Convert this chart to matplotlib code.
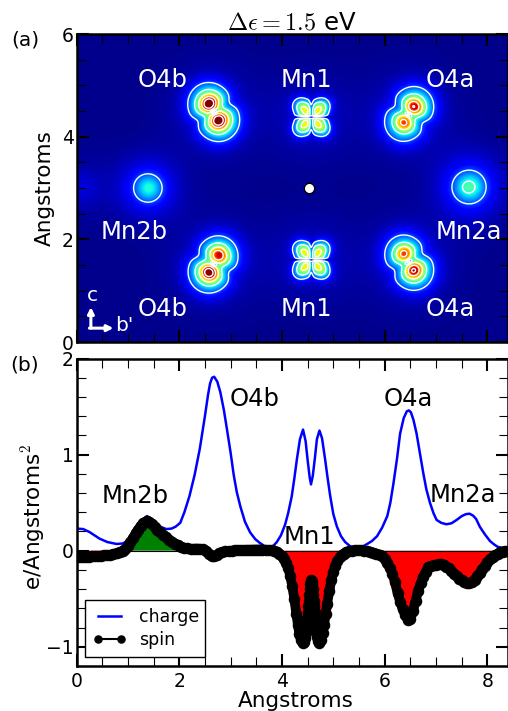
import numpy as np
import matplotlib
matplotlib.use("Agg")
import matplotlib.pyplot as plt
from matplotlib.ticker import MultipleLocator

plt.rcParams['font.family'] = ['DejaVu Sans']
plt.rcParams['mathtext.fontset'] = 'cm'

# ---- panel (b): values ----
charge_x = [0,.13,.25,.35,.45,.6,.78,.9,1.0,1.1,1.2,1.3,1.37,1.45,1.55,1.65,1.75,1.85,1.93,2.02,2.1,2.2,2.3,2.4,2.5,2.56,2.6,2.64,2.68,2.74,2.8,2.87,2.93,3.0,3.06,3.12,3.19,3.28,3.38,3.48,3.57,3.67,3.75,3.83,3.9,3.98,4.06,4.12,4.19,4.24,4.29,4.35,4.41,4.46,4.5,4.54,4.565,4.6,4.64,4.68,4.73,4.78,4.84,4.89,4.94,5.0,5.07,5.15,5.23,5.33,5.45,5.56,5.66,5.75,5.85,5.95,6.05,6.11,6.17,6.24,6.3,6.37,6.43,6.47,6.51,6.56,6.62,6.68,6.75,6.81,6.88,6.95,7.01,7.1,7.2,7.3,7.4,7.5,7.58,7.65,7.72,7.78,7.85,7.95,8.05,8.13,8.2,8.28,8.35,8.4]
charge_y = [.23,.225,.195,.16,.125,.09,.07,.075,.105,.17,.26,.33,.36,.335,.28,.245,.225,.23,.25,.29,.40,.57,.79,1.06,1.40,1.62,1.74,1.80,1.81,1.76,1.65,1.46,1.26,1.02,.79,.61,.46,.3,.19,.12,.08,.045,.035,.05,.09,.16,.27,.39,.565,.75,.95,1.16,1.26,1.14,.94,.76,.69,.78,.96,1.16,1.25,1.17,.95,.75,.565,.38,.25,.15,.09,.045,.03,.04,.07,.1,.15,.24,.36,.5,.7,.96,1.22,1.38,1.45,1.46,1.44,1.36,1.22,1.03,.81,.64,.5,.39,.32,.29,.275,.285,.32,.36,.38,.385,.365,.33,.25,.17,.10,.065,.04,.03,.03,.035]

spin_x = [0,.06,.12,.18,.24,.3,.36,.42,.48,.54,.6,.66,.72,.78,.84,.9,.95,1.0,1.05,1.1,1.15,1.2,1.25,1.3,1.37,1.42,1.47,1.52,1.57,1.62,1.68,1.74,1.8,1.86,1.92,1.98,2.04,2.1,2.16,2.22,2.28,2.34,2.4,2.46,2.52,2.58,2.63,2.68,2.73,2.78,2.84,2.9,2.96,3.02,3.08,3.14,3.2,3.26,3.32,3.38,3.44,3.5,3.56,3.62,3.68,3.74,3.8,3.85,3.9,3.95,4.0,4.04,4.08,4.12,4.16,4.2,4.24,4.28,4.31,4.34,4.37,4.4,4.43,4.445,4.46,4.47,4.48,4.49,4.5,4.51,4.52,4.53,4.54,4.55,4.56,4.57,4.58,4.59,4.6,4.61,4.62,4.63,4.64,4.65,4.66,4.67,4.68,4.69,4.7,4.73,4.76,4.79,4.82,4.85,4.88,4.92,4.96,5.0,5.04,5.08,5.12,5.16,5.2,5.25,5.3,5.36,5.42,5.48,5.54,5.6,5.66,5.72,5.78,5.84,5.9,5.95,6.0,6.05,6.1,6.15,6.2,6.25,6.3,6.35,6.4,6.45,6.5,6.55,6.6,6.65,6.7,6.75,6.8,6.85,6.9,6.95,7.0,7.05,7.1,7.15,7.2,7.25,7.3,7.35,7.4,7.45,7.5,7.55,7.6,7.65,7.7,7.75,7.8,7.85,7.9,7.95,8.0,8.05,8.1,8.15,8.2,8.25,8.3,8.35,8.4]
spin_y = [-.07,-.07,-.068,-.065,-.063,-.06,-.058,-.055,-.052,-.05,-.047,-.043,-.036,-.027,-.015,0,.02,.05,.09,.13,.18,.22,.26,.29,.31,.30,.28,.25,.22,.19,.16,.14,.11,.09,.07,.055,.04,.03,.025,.02,.02,.022,.02,.015,0,-.03,-.055,-.06,-.05,-.025,-.012,-.008,-.005,0,.003,.005,.007,.008,.01,.01,.011,.012,.012,.012,.01,.008,.005,0,-.01,-.03,-.055,-.085,-.125,-.18,-.26,-.37,-.5,-.66,-.77,-.87,-.93,-.96,-.95,-.91,-.86,-.81,-.76,-.70,-.64,-.58,-.52,-.46,-.40,-.35,-.32,-.31,-.32,-.35,-.40,-.46,-.52,-.58,-.64,-.70,-.76,-.81,-.86,-.90,-.94,-.96,-.93,-.86,-.77,-.66,-.55,-.42,-.31,-.22,-.155,-.105,-.07,-.045,-.03,-.015,-.006,0,.005,.007,.005,0,-.005,-.01,-.02,-.03,-.04,-.06,-.09,-.13,-.18,-.24,-.33,-.44,-.53,-.61,-.67,-.72,-.71,-.63,-.52,-.42,-.34,-.27,-.22,-.17,-.16,-.15,-.147,-.143,-.143,-.15,-.165,-.185,-.21,-.24,-.265,-.29,-.31,-.325,-.335,-.335,-.325,-.3,-.265,-.23,-.19,-.155,-.12,-.09,-.065,-.045,-.03,-.018,-.01,-.004,0]

# ---- panel (a): atoms ----
o_x   = [2.58, 2.76, 6.56, 6.37, 2.58, 2.76, 6.56, 6.37]
o_y   = [4.64, 4.32, 4.58, 4.28, 1.36, 1.69, 1.40, 1.72]
o_amp = [1.0, 1.0, .86, .72, .98, .80, .88, .72]
mn1_x = [4.57, 4.57]
mn1_y = [4.38, 1.60]
mn1_amp = [.54, .54]
mn2_x = [1.39, 7.65, 0.1, 7.50]
mn2_y = [3.0, 3.02, 3.0, 3.0]
mn2_amp = [.38, .42, .07, .03]
mn2_sig = [.185, .20, .22, .12]
levels = [.2, .4, .6, .8, .965]

labels_a = [("O4b",1.67,5.1),("Mn1",4.47,5.1),("O4a",7.28,5.1),("Mn2b",1.13,2.14),("Mn2a",7.63,2.14),
            ("O4b",1.67,.65),("Mn1",4.47,.65),("O4a",7.28,.65)]
labels_b = [("Mn2b",1.14,.57),("O4b",3.47,1.58),("O4a",6.46,1.58),("Mn2a",7.52,.58),("Mn1",4.53,.14)]

W, H = 508, 711
fig = plt.figure(figsize=(W/100, H/100), dpi=100)
L, R = 76.5/W, 1.0
ax1 = fig.add_axes([L, 1-342/H, R-L, (342-34)/H])
ax2 = fig.add_axes([L, 1-666/H, R-L, (666-358.5)/H])

# density field built from the estimated atoms
xs = np.linspace(0, 8.4, 841)
ys = np.linspace(0, 6, 601)
X, Y = np.meshgrid(xs, ys)
F = 0.012 + 0*X
def G(dx, dy, s):
    return np.exp(-(dx**2 + dy**2)/(2*s**2))
for i in range(0, 8, 2):
    xa, ya, xb, yb = o_x[i], o_y[i], o_x[i+1], o_y[i+1]
    ma, mb = (xa+xb)/2, (ya+yb)/2
    d = np.hypot(xb-xa, yb-ya)
    ux, uy = (xb-xa)/d, (yb-ya)/d
    t = (X-ma)*ux + (Y-mb)*uy
    p = -(X-ma)*uy + (Y-mb)*ux
    pair = 0*X
    for sgn, x0, y0, a in ((-1, xa, ya, o_amp[i]), (1, xb, yb, o_amp[i+1])):
        cx, cy = ma + sgn*.21*ux, mb + sgn*.21*uy
        broad = .52*a*G(X-cx, Y-cy, .25)*(1 - .45*np.exp(-t**2/(2*.1**2)))
        pair += .47*a*G(X-x0, Y-y0, .115) + broad
    pair *= 1 - .9*np.exp(-t**2/(2*.025**2))*np.exp(-p**2/(2*.05**2))
    F += pair + .05*G(X-ma, Y-mb, .6)
for x0, y0, a in zip(mn1_x, mn1_y, mn1_amp):
    dx, dy = X-x0, Y-y0
    lobes = 0*X
    for sx_ in (-1, 1):
        for sy_ in (-1, 1):
            cx, cy = sx_*.16, sy_*.17
            n = np.hypot(cx, cy)
            rad = ((dx-cx)*cx + (dy-cy)*cy)/n
            per = (-(dx-cx)*cy + (dy-cy)*cx)/n
            lobes += a*np.exp(-rad**2/(2*.14**2) - per**2/(2*.115**2))
    lobes *= (1 - np.exp(-dy**2/(2*.02**2)))*(1 - .6*np.exp(-dx**2/(2*.03**2)))
    F += lobes + .05*G(dx, dy, .55)
for x0, y0, a, s in zip(mn2_x, mn2_y, mn2_amp, mn2_sig):
    dx, dy = X-x0, Y-y0
    F += a*(.65*G(dx, dy, s) + .35*G(dx, dy, 2.2*s))

ax1.imshow(F, origin='lower', extent=[0, 8.4, 0, 6], cmap='jet', vmin=0, vmax=1, aspect='auto', interpolation='bilinear')
ax1.contour(X, Y, F, levels=levels, colors='white', linewidths=1.0)
ax1.plot([4.53], [3.0], 'o', color='white', mec='black', mew=1, ms=7.5)
for t_, x, y in labels_a:
    ax1.text(x, y, t_, color='white', fontsize=17.5, ha='center', va='center')
arrow = dict(arrowstyle='-|>', color='white', lw=2.2, mutation_scale=9, shrinkA=0, shrinkB=0)
ax1.annotate('', xy=(.28, .68), xytext=(.28, .27), arrowprops=arrow)
ax1.annotate('', xy=(.72, .27), xytext=(.25, .27), arrowprops=arrow)
ax1.text(.30, .90, 'c', color='white', fontsize=14.5, ha='center', va='center')
ax1.text(.93, .33, "b'", color='white', fontsize=14.5, ha='center', va='center')
ax1.set_xlim(0, 8.4); ax1.set_ylim(0, 6)
ax1.set_xticks([0, 2, 4, 6, 8]); ax1.set_yticks([0, 2, 4, 6])
ax1.set_xticklabels([])
ax1.xaxis.set_minor_locator(MultipleLocator(.5))
ax1.yaxis.set_minor_locator(MultipleLocator(.5))
ax1.set_ylabel('Angstroms', fontsize=15.5)
ax1.yaxis.set_label_coords((55-76.5)/(W-76.5), .5)
ax1.set_title(r'$\Delta\epsilon = 1.5$ eV', fontsize=17.5, x=.5, pad=3)

# line panel
sx, sy = np.array(spin_x), np.array(spin_y)
ax2.fill_between(sx, 0, sy, where=sy >= 0, color='green', interpolate=True, lw=0)
ax2.fill_between(sx, 0, sy, where=sy <= 0, color='red', interpolate=True, lw=0)
ax2.axhline(0, color='black', lw=.8)
ax2.plot(charge_x, charge_y, color='blue', lw=1.8, label='charge')
ax2.plot(spin_x, spin_y, '-o', color='black', lw=1.8, ms=7.3, label='spin')
# the densely sampled original merges into a solid band outside the Mn1 centre
ax2.plot(sx[sx <= 4.4], sy[sx <= 4.4], '-', color='black', lw=7, solid_capstyle='round')
ax2.plot(sx[sx >= 4.73], sy[sx >= 4.73], '-', color='black', lw=7, solid_capstyle='round')
for t_, x, y in labels_b:
    ax2.text(x, y, t_, color='black', fontsize=17.5, ha='center', va='center')
ax2.set_xlim(0, 8.4); ax2.set_ylim(-1.2, 2)
ax2.set_xticks([0, 2, 4, 6, 8]); ax2.set_yticks([-1, 0, 1, 2])
ax2.xaxis.set_minor_locator(MultipleLocator(.5))
ax2.yaxis.set_minor_locator(MultipleLocator(.2))
ax2.set_xlabel('Angstroms', fontsize=15.5)
ax2.xaxis.set_label_coords(.507, -(691-666)/(666-358.5))
ax2.set_ylabel(r'e/Angstroms$^2$', fontsize=15.5)
ax2.yaxis.set_label_coords((47-76.5)/(W-76.5), (666-517)/(666-358.5))
leg = ax2.legend(loc='lower left', bbox_to_anchor=((85-76.5)/(W-76.5), (666-657)/(666-358.5), 120/(W-76.5), 54/(666-358.5)),
                 mode='expand', fontsize=12.5, fancybox=False, framealpha=1, edgecolor='black', borderaxespad=0,
                 labelspacing=.3, borderpad=.45, handlelength=1.9, handletextpad=.75, markerscale=.7, numpoints=2)
leg.get_frame().set_linewidth(1.0)
leg.get_lines()[1].set_linewidth(1.5)

for ax in (ax1, ax2):
    ax.tick_params(which='major', direction='in', length=8.5, width=1.5, top=True, right=True, labelsize=13.5)
    ax.tick_params(which='minor', direction='in', length=6.5, width=.8, top=True, right=True)
    ax.tick_params(axis='y', which='major', pad=2)
    ax.tick_params(axis='x', which='major', pad=4)
    for s in ax.spines.values():
        s.set_linewidth(1.8)

fig.text(25/W, 1-40/H, '(a)', fontsize=14.5, ha='center', va='center')
fig.text(25/W, 1-365/H, '(b)', fontsize=14.5, ha='center', va='center')
fig.savefig('out.png', dpi=100)
